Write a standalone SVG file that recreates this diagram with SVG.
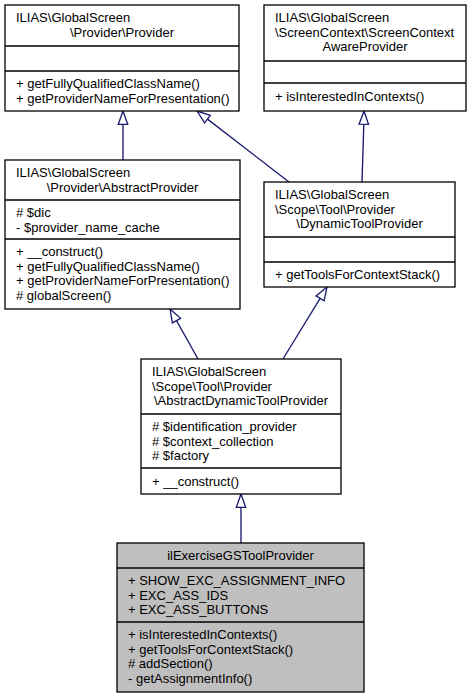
<svg xmlns="http://www.w3.org/2000/svg" width="474" height="699" viewBox="0 0 474 699">
<style>
  .box { fill: #ffffff; stroke: #000000; stroke-width: 1.3; }
  .cur { fill: #bfbfbf; stroke: #000000; stroke-width: 1.3; }
  .sep { stroke: #000000; stroke-width: 1.3; }
  text { font-family: "Liberation Sans", Arial, sans-serif; font-size: 13px; fill: #000000; }
  .c { text-anchor: middle; }
  .edge { fill: none; stroke: #191970; stroke-width: 1.33; }
  .head { fill: #ffffff; stroke: #191970; stroke-width: 1.33; }
</style>
<rect width="474" height="699" fill="#ffffff"/>

<g id="connectors">
  <path class="edge" d="M123,160 L123,124.3"/>
  <polygon class="head" points="123,111 118.3,124.3 127.7,124.3"/>

  <path class="edge" d="M289,182 L207.5,119.1"/>
  <polygon class="head" points="197,111 204.6,122.8 210.3,115.4"/>

  <path class="edge" d="M362,182 L363.8,124.3"/>
  <polygon class="head" points="364,111 359.1,124.2 368.5,124.4"/>

  <path class="edge" d="M198,359 L176.5,320.6"/>
  <polygon class="head" points="170,309 172.4,322.9 180.6,318.3"/>

  <path class="edge" d="M283,359 L320.1,298.3"/>
  <polygon class="head" points="327,287 316.1,295.9 324.1,300.8"/>

  <path class="edge" d="M241,543 L241,507.3"/>
  <polygon class="head" points="241,494 236.3,507.3 245.7,507.3"/>
</g>

<g id="node-provider">
  <rect class="box" x="5" y="5" width="234" height="106"/>
  <line class="sep" x1="5" y1="46" x2="239" y2="46"/>
  <line class="sep" x1="5" y1="71" x2="239" y2="71"/>
  <text x="16" y="22">ILIAS\GlobalScreen</text>
  <text class="c" x="122" y="36.7">\Provider\Provider</text>
  <text x="16" y="88">+ getFullyQualifiedClassName()</text>
  <text x="16" y="102.7">+ getProviderNameForPresentation()</text>
</g>

<g id="node-screencontextawareprovider">
  <rect class="box" x="264" y="5" width="202" height="106"/>
  <line class="sep" x1="264" y1="61" x2="466" y2="61"/>
  <line class="sep" x1="264" y1="83" x2="466" y2="83"/>
  <text x="275" y="22">ILIAS\GlobalScreen</text>
  <text x="275" y="36.7">\ScreenContext\ScreenContext</text>
  <text class="c" x="365" y="51.3">AwareProvider</text>
  <text x="275" y="101">+ isInterestedInContexts()</text>
</g>

<g id="node-abstractprovider">
  <rect class="box" x="5" y="160" width="235" height="149"/>
  <line class="sep" x1="5" y1="200" x2="240" y2="200"/>
  <line class="sep" x1="5" y1="239" x2="240" y2="239"/>
  <text x="16" y="177">ILIAS\GlobalScreen</text>
  <text class="c" x="122.5" y="191.7">\Provider\AbstractProvider</text>
  <text x="16" y="217">#  $dic</text>
  <text x="16" y="231.7">- $provider_name_cache</text>
  <text x="16" y="256">+ __construct()</text>
  <text x="16" y="270.7">+ getFullyQualifiedClassName()</text>
  <text x="16" y="285.3">+ getProviderNameForPresentation()</text>
  <text x="16" y="300">#  globalScreen()</text>
</g>

<g id="node-dynamictoolprovider">
  <rect class="box" x="264" y="182" width="191" height="105"/>
  <line class="sep" x1="264" y1="237" x2="455" y2="237"/>
  <line class="sep" x1="264" y1="262" x2="455" y2="262"/>
  <text x="275" y="199">ILIAS\GlobalScreen</text>
  <text x="275" y="213.7">\Scope\Tool\Provider</text>
  <text class="c" x="359.5" y="228.3">\DynamicToolProvider</text>
  <text x="275" y="279">+ getToolsForContextStack()</text>
</g>

<g id="node-abstractdynamictoolprovider">
  <rect class="box" x="141" y="359" width="200" height="135"/>
  <line class="sep" x1="141" y1="414" x2="341" y2="414"/>
  <line class="sep" x1="141" y1="468" x2="341" y2="468"/>
  <text x="152" y="376">ILIAS\GlobalScreen</text>
  <text x="152" y="390.7">\Scope\Tool\Provider</text>
  <text class="c" x="241" y="405.3">\AbstractDynamicToolProvider</text>
  <text x="152" y="431">#  $identification_provider</text>
  <text x="152" y="445.7">#  $context_collection</text>
  <text x="152" y="460.3">#  $factory</text>
  <text x="152" y="485.5">+ __construct()</text>
</g>

<g id="node-ilexercisegstoolprovider">
  <rect class="cur" x="117" y="543" width="247" height="149"/>
  <line class="sep" x1="117" y1="568" x2="364" y2="568"/>
  <line class="sep" x1="117" y1="622" x2="364" y2="622"/>
  <text class="c" x="240.5" y="560">ilExerciseGSToolProvider</text>
  <text x="128" y="585">+ SHOW_EXC_ASSIGNMENT_INFO</text>
  <text x="128" y="599.7">+ EXC_ASS_IDS</text>
  <text x="128" y="614.3">+ EXC_ASS_BUTTONS</text>
  <text x="128" y="639">+ isInterestedInContexts()</text>
  <text x="128" y="653.7">+ getToolsForContextStack()</text>
  <text x="128" y="668.3">#  addSection()</text>
  <text x="128" y="683">- getAssignmentInfo()</text>
</g>
</svg>
